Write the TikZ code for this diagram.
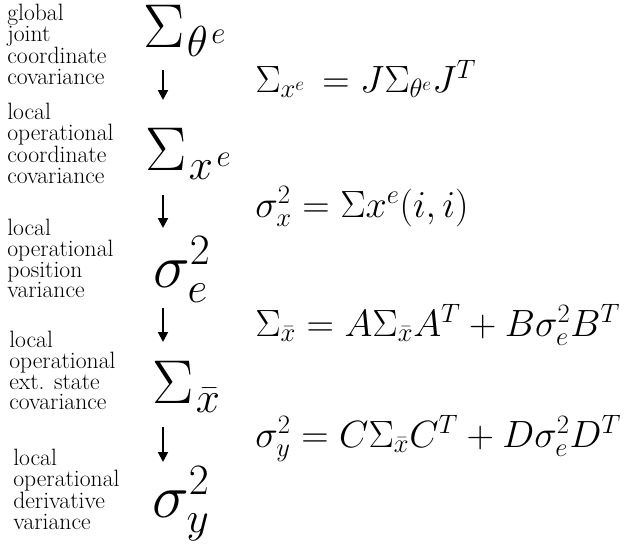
\documentclass[tikz,border=0pt]{standalone}
\usepackage{fix-cm}
\usepackage{amsmath}
\usepackage{tikz}
\usetikzlibrary{arrows.meta}

\begin{document}
\begin{tikzpicture}[x=0.025cm, y=-0.025cm,
    lbl/.style={anchor=north west, inner sep=0pt, align=left, font=\fontsize{16.8}{14.7}\selectfont},
    sym/.style={anchor=base west, inner sep=0pt, font=\fontsize{44}{50}\selectfont},
    eqn/.style={anchor=base west, inner sep=0pt, font=\fontsize{27}{32}\selectfont},
    flow/.style={draw, line width=1.4pt, -{Triangle[width=7pt,length=7pt]}}]
  \useasboundingbox (0,0) rectangle (626,547);
  % quantities, top to bottom
  \node[sym] (sTheta) at (143, 47) {$\Sigma_{\mkern1mu\theta^{\mkern2mu e}}$};
  \node[sym] (sXe) at (145, 170) {$\Sigma_{\mkern1mu x^{\mkern2mu e}}$};
  \node[sym] (sPos) at (153, 287) {$\sigma_e^2$};
  \node[sym] (sExt) at (152, 403) {$\Sigma_{\mkern1mu\bar{x}}$};
  \node[sym] (sDer) at (152, 517) {$\sigma_y^2$};
  % what each one is
  \foreach \nm/\x/\y/\txt in {lTheta/7/4/{global\\joint\\coordinate\\covariance},
      lXe/7/103/{local\\operational\\coordinate\\covariance},
      lPos/7/219/{local\\operational\\position\\variance},
      lExt/9/331/{local\\operational\\ext. state\\covariance},
      lDer/13/449/{local\\operational\\derivative\\variance}}
    \node[lbl] (\nm) at (\x,\y) {\txt};
  % propagation steps
  \foreach \i/\ys/\ye in {1/70/100, 2/195/228, 3/308/342, 4/427/462} {
    \coordinate (tail\i) at (163, \ys);
    \coordinate (head\i) at (163, \ye);
    \draw[flow] (tail\i) -- (head\i);
  }
  % how each step is computed
  \node[eqn] (eqJ) at (255, 92) {$\Sigma_{x^e}\, = J\Sigma_{\theta^e}J^T$};
  \node[eqn] (eqDiag) at (255, 217) {$\sigma_x^2 = \Sigma x^e(i,i)$};
  \node[eqn] (eqState) at (255, 336) {$\Sigma_{\bar{x}} = A\Sigma_{\bar{x}}A^T + B\sigma_e^2B^T$};
  \node[eqn] (eqOut) at (255, 447) {$\sigma_y^2 = C\Sigma_{\bar{x}}C^T + D\sigma_e^2D^T$};
\end{tikzpicture}
\end{document}
